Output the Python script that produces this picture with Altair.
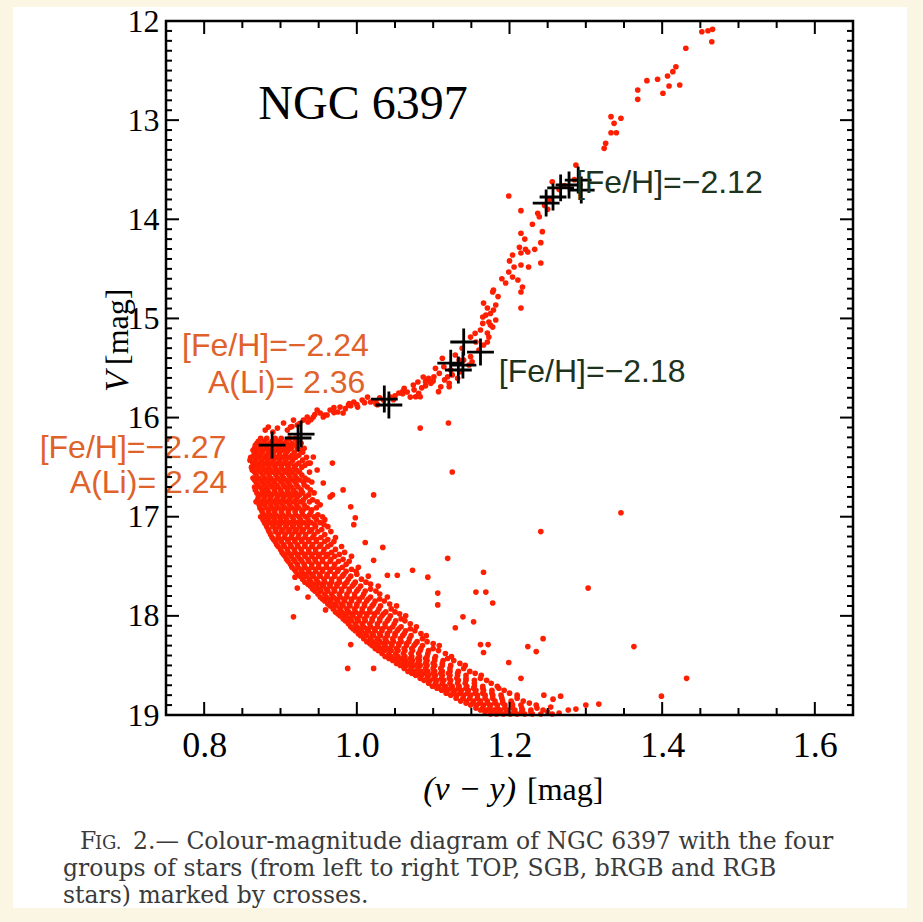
import altair as alt
import pandas as pd

# ---------------- data ----------------
# Sub-giant branch and red-giant branch stars: (v-y) colour and V magnitude
rgb_c = [1.452, 1.460, 1.466, 1.465, 1.431, 1.418, 1.414, 1.407, 1.423, 1.409, 1.401, 1.394,
         1.380, 1.368, 1.368, 1.333, 1.346, 1.337, 1.333, 1.340, 1.326, 1.324, 1.287, 1.256,
         1.199, 1.215, 1.237, 1.239, 1.215, 1.243, 1.213, 1.221, 1.233, 1.241, 1.204, 1.215,
         1.224, 1.241, 1.225, 1.215, 1.206, 1.199, 1.204, 1.211, 1.217, 1.215, 1.195, 1.179,
         1.178, 1.215, 1.166, 1.171, 1.182, 1.179, 1.169, 1.182, 1.173, 1.178, 1.173, 1.171,
         1.165, 1.175, 1.162, 1.171, 1.149, 1.156, 1.166, 1.160, 1.140, 1.147, 1.138, 1.129,
         1.134, 1.149, 1.151, 1.112, 1.114, 1.123, 1.136, 1.103, 1.108, 1.101, 1.119, 1.121,
         1.132, 1.094, 1.090, 1.097, 1.110, 1.121, 1.081, 1.077, 1.062, 1.060, 1.083, 1.107,
         1.087, 1.093, 1.080, 1.074, 1.066, 1.055, 1.070, 1.044, 1.035, 1.014, 1.007, 1.018,
         0.996, 1.001, 0.989, 0.978, 0.975, 0.982, 0.965, 0.961, 0.948, 0.952, 0.943, 0.956,
         0.935, 0.930, 0.936, 0.917, 0.922, 0.913, 0.904, 0.909, 0.896, 0.890, 0.884, 0.880,
         1.265, 1.252, 1.272, 1.285, 1.246, 1.027, 1.048, 0.970, 0.992, 1.025,
         0.940, 0.958, 0.970, 0.985, 1.000, 1.010, 1.025, 1.050, 1.060, 1.075, 1.090, 1.100,
         1.115, 1.125, 0.925, 0.915, 0.945, 0.990, 1.030, 1.085,
         1.190, 1.185, 1.200, 1.220, 1.230, 1.250, 1.175, 1.165, 1.155]
rgb_v = [12.108, 12.098, 12.084, 12.209, 12.275, 12.461, 12.511, 12.555, 12.646, 12.656, 12.729, 12.588,
         12.602, 12.696, 12.790, 12.965, 12.981, 13.032, 13.127, 13.127, 13.234, 13.284, 13.453, 13.621,
         13.765, 13.913, 13.940, 13.974, 14.141, 14.125, 14.283, 14.303, 14.303, 14.236, 14.360, 14.340,
         14.330, 14.441, 14.481, 14.461, 14.481, 14.532, 14.582, 14.612, 14.683, 14.733, 14.643, 14.713,
         14.733, 14.895, 14.845, 14.895, 14.865, 14.915, 14.966, 15.016, 15.036, 15.087, 15.188, 15.238,
         14.986, 15.067, 15.117, 15.147, 15.188, 15.238, 15.268, 15.319, 15.420, 15.470, 15.302, 15.369,
         15.420, 15.386, 15.437, 15.402, 15.487, 15.520, 15.537, 15.503, 15.554, 15.588, 15.588, 15.655,
         15.604, 15.604, 15.638, 15.655, 15.689, 15.689, 15.755, 15.790, 15.705, 15.739, 15.790, 15.739,
         15.591, 15.621, 15.641, 15.672, 15.742, 15.752, 15.793, 15.793, 15.823, 15.793, 15.823, 15.843,
         15.843, 15.894, 15.874, 15.894, 15.944, 15.954, 15.924, 15.974, 15.924, 15.954, 15.994, 15.994,
         15.994, 16.025, 16.045, 16.025, 16.075, 16.096, 16.055, 16.126, 16.106, 16.146, 16.096, 16.126,
         13.700, 13.800, 13.660, 13.600, 13.860, 15.870, 15.820, 15.900, 15.880, 15.860,
         16.020, 15.975, 15.950, 15.910, 15.870, 15.850, 15.830, 15.780, 15.760, 15.720, 15.680, 15.630,
         15.620, 15.570, 16.060, 16.090, 15.970, 15.860, 15.800, 15.700,
         14.600, 14.780, 14.420, 14.200, 14.050, 13.900, 14.950, 15.050, 15.150]

# Dense turn-off / main-sequence cloud, read row by row: (V, [colours along that row])
ms_rows = [
    (16.21, [0.874, 0.882, 0.893, 0.901, 0.912, 0.919]),
    (16.24, [0.871, 0.879, 0.889, 0.898, 0.908, 0.922]),
    (16.26, [0.869, 0.878, 0.886, 0.895, 0.904, 0.915, 0.927]),
    (16.28, [0.867, 0.875, 0.883, 0.891, 0.900, 0.910, 0.920]),
    (16.31, [0.866, 0.873, 0.881, 0.889, 0.897, 0.906, 0.914, 0.922, 0.931]),
    (16.33, [0.864, 0.870, 0.877, 0.885, 0.893, 0.902, 0.910, 0.926]),
    (16.35, [0.868, 0.876, 0.884, 0.891, 0.899, 0.908, 0.918, 0.929]),
    (16.38, [0.865, 0.873, 0.882, 0.890, 0.898, 0.906, 0.915, 0.924]),
    (16.40, [0.861, 0.870, 0.879, 0.887, 0.894, 0.902, 0.911, 0.920, 0.934]),
    (16.43, [0.860, 0.867, 0.875, 0.883, 0.891, 0.899, 0.907, 0.916, 0.929]),
    (16.46, [0.864, 0.872, 0.880, 0.888, 0.897, 0.905, 0.913, 0.924, 0.936]),
    (16.48, [0.866, 0.874, 0.884, 0.892, 0.901, 0.909, 0.920, 0.932]),
    (16.50, [0.862, 0.869, 0.877, 0.885, 0.893, 0.901, 0.910, 0.918, 0.928]),
    (16.53, [0.863, 0.871, 0.880, 0.887, 0.895, 0.904, 0.912, 0.921]),
    (16.55, [0.866, 0.874, 0.882, 0.890, 0.898, 0.907, 0.915, 0.925, 0.938]),
    (16.58, [0.868, 0.877, 0.885, 0.894, 0.902, 0.911, 0.919, 0.928]),
    (16.61, [0.864, 0.871, 0.879, 0.887, 0.896, 0.904, 0.913, 0.921, 0.932]),
    (16.63, [0.866, 0.874, 0.882, 0.890, 0.899, 0.907, 0.916, 0.925, 0.936]),
    (16.65, [0.868, 0.876, 0.884, 0.892, 0.901, 0.910, 0.919, 0.930, 0.941]),
    (16.68, [0.870, 0.879, 0.887, 0.895, 0.904, 0.912, 0.921, 0.931]),
    (16.70, [0.866, 0.873, 0.881, 0.889, 0.897, 0.906, 0.914, 0.923, 0.935]),
    (16.73, [0.867, 0.876, 0.883, 0.892, 0.900, 0.909, 0.917, 0.927, 0.939]),
    (16.76, [0.869, 0.877, 0.885, 0.893, 0.902, 0.911, 0.920, 0.929, 0.944]),
    (16.78, [0.873, 0.881, 0.889, 0.898, 0.907, 0.916, 0.925, 0.937]),
    (16.80, [0.871, 0.879, 0.887, 0.896, 0.904, 0.913, 0.922, 0.933]),
    (16.83, [0.870, 0.878, 0.886, 0.894, 0.903, 0.911, 0.920, 0.930, 0.942]),
    (16.85, [0.868, 0.875, 0.883, 0.891, 0.899, 0.908, 0.917, 0.926, 0.938, 0.948]),
    (16.88, [0.872, 0.879, 0.887, 0.895, 0.903, 0.912, 0.921, 0.931, 0.952]),
    (16.91, [0.873, 0.881, 0.889, 0.897, 0.906, 0.915, 0.924, 0.935, 0.947]),
    (16.93, [0.875, 0.885, 0.893, 0.902, 0.911, 0.920, 0.930, 0.941]),
    (16.95, [0.876, 0.884, 0.892, 0.901, 0.910, 0.919, 0.928, 0.940]),
    (16.98, [0.878, 0.886, 0.894, 0.903, 0.911, 0.920, 0.929, 0.938, 0.949]),
    (17.00, [0.874, 0.882, 0.890, 0.898, 0.906, 0.915, 0.924, 0.933, 0.944, 0.955]),
    (17.03, [0.877, 0.884, 0.892, 0.900, 0.908, 0.917, 0.926, 0.936, 0.947, 0.958]),
    (17.06, [0.879, 0.887, 0.895, 0.903, 0.912, 0.921, 0.930, 0.940, 0.952]),
    (17.08, [0.881, 0.891, 0.899, 0.908, 0.917, 0.926, 0.935, 0.945, 0.957]),
    (17.10, [0.882, 0.890, 0.898, 0.907, 0.916, 0.925, 0.935, 0.946, 0.962]),
    (17.13, [0.884, 0.894, 0.903, 0.912, 0.921, 0.930, 0.941, 0.954]),
    (17.15, [0.885, 0.893, 0.901, 0.910, 0.919, 0.928, 0.938, 0.949, 0.966]),
    (17.18, [0.887, 0.897, 0.906, 0.915, 0.924, 0.933, 0.944, 0.958]),
    (17.21, [0.889, 0.897, 0.905, 0.914, 0.923, 0.932, 0.942, 0.953, 0.972]),
    (17.23, [0.891, 0.900, 0.909, 0.918, 0.927, 0.937, 0.947, 0.962]),
    (17.25, [0.893, 0.901, 0.910, 0.919, 0.928, 0.937, 0.947, 0.958, 0.970]),
    (17.28, [0.895, 0.904, 0.913, 0.922, 0.932, 0.942, 0.953, 0.966]),
    (17.30, [0.897, 0.905, 0.914, 0.923, 0.932, 0.941, 0.951, 0.962, 0.980]),
    (17.33, [0.900, 0.909, 0.918, 0.927, 0.937, 0.946, 0.957, 0.972]),
    (17.36, [0.902, 0.910, 0.919, 0.928, 0.937, 0.946, 0.956, 0.967, 0.984]),
    (17.38, [0.904, 0.913, 0.922, 0.932, 0.941, 0.951, 0.962, 0.977]),
    (17.40, [0.906, 0.914, 0.923, 0.932, 0.941, 0.950, 0.960, 0.971, 0.993]),
    (17.43, [0.908, 0.917, 0.926, 0.936, 0.945, 0.955, 0.966, 0.982]),
    (17.45, [0.910, 0.919, 0.928, 0.937, 0.946, 0.955, 0.965, 0.976, 0.990]),
    (17.48, [0.913, 0.922, 0.931, 0.941, 0.950, 0.960, 0.971, 0.986]),
    (17.51, [0.915, 0.923, 0.932, 0.941, 0.950, 0.960, 0.970, 0.981, 1.002]),
    (17.53, [0.918, 0.927, 0.936, 0.946, 0.955, 0.965, 0.976, 0.993]),
    (17.55, [0.920, 0.928, 0.937, 0.946, 0.955, 0.965, 0.975, 0.986, 0.999]),
    (17.58, [0.923, 0.932, 0.941, 0.951, 0.961, 0.971, 0.983, 1.000]),
    (17.60, [0.926, 0.934, 0.943, 0.952, 0.961, 0.971, 0.981, 0.992, 1.015]),
    (17.63, [0.929, 0.938, 0.947, 0.957, 0.967, 0.977, 0.989, 1.006]),
    (17.66, [0.932, 0.940, 0.949, 0.958, 0.967, 0.977, 0.987, 0.998, 1.012]),
    (17.68, [0.936, 0.945, 0.954, 0.964, 0.974, 0.984, 0.996, 1.018]),
    (17.70, [0.939, 0.947, 0.956, 0.965, 0.974, 0.984, 0.994, 1.005, 1.028]),
    (17.73, [0.942, 0.951, 0.960, 0.970, 0.980, 0.990, 1.002, 1.018]),
    (17.75, [0.945, 0.953, 0.962, 0.971, 0.980, 0.990, 1.000, 1.011, 1.025]),
    (17.78, [0.949, 0.958, 0.967, 0.977, 0.987, 0.997, 1.009, 1.030]),
    (17.81, [0.952, 0.960, 0.969, 0.978, 0.987, 0.997, 1.007, 1.018, 1.040]),
    (17.83, [0.955, 0.964, 0.973, 0.983, 0.993, 1.003, 1.015, 1.030]),
    (17.85, [0.958, 0.966, 0.975, 0.984, 0.993, 1.003, 1.013, 1.024, 1.036]),
    (17.88, [0.962, 0.971, 0.980, 0.990, 1.000, 1.010, 1.022, 1.043]),
    (17.90, [0.965, 0.973, 0.982, 0.991, 1.000, 1.010, 1.020, 1.031, 1.052]),
    (17.93, [0.969, 0.978, 0.987, 0.997, 1.007, 1.017, 1.029, 1.045]),
    (17.96, [0.972, 0.980, 0.989, 0.998, 1.007, 1.017, 1.027, 1.038, 1.050]),
    (17.98, [0.975, 0.984, 0.993, 1.003, 1.013, 1.023, 1.035, 1.056]),
    (18.00, [0.978, 0.986, 0.995, 1.004, 1.013, 1.023, 1.033, 1.044, 1.064]),
    (18.03, [0.982, 0.991, 1.000, 1.010, 1.020, 1.030, 1.042, 1.058]),
    (18.05, [0.985, 0.993, 1.002, 1.011, 1.020, 1.030, 1.040, 1.051, 1.063]),
    (18.08, [0.989, 0.998, 1.007, 1.017, 1.027, 1.037, 1.049, 1.070]),
    (18.11, [0.992, 1.000, 1.009, 1.018, 1.027, 1.037, 1.047, 1.058, 1.078]),
    (18.13, [0.995, 1.004, 1.013, 1.023, 1.033, 1.043, 1.055, 1.070]),
    (18.15, [0.998, 1.006, 1.015, 1.024, 1.033, 1.043, 1.053, 1.064, 1.076]),
    (18.18, [1.002, 1.011, 1.020, 1.030, 1.040, 1.050, 1.062, 1.084]),
    (18.20, [1.005, 1.013, 1.022, 1.031, 1.040, 1.050, 1.060, 1.071, 1.091]),
    (18.23, [1.009, 1.018, 1.027, 1.037, 1.047, 1.057, 1.069, 1.086]),
    (18.26, [1.013, 1.021, 1.030, 1.039, 1.048, 1.058, 1.068, 1.079, 1.092]),
    (18.28, [1.017, 1.026, 1.035, 1.045, 1.055, 1.065, 1.077, 1.100]),
    (18.30, [1.020, 1.028, 1.037, 1.046, 1.055, 1.065, 1.075, 1.086, 1.108]),
    (18.33, [1.024, 1.033, 1.042, 1.052, 1.062, 1.072, 1.084, 1.100]),
    (18.35, [1.028, 1.036, 1.045, 1.054, 1.063, 1.073, 1.083, 1.094, 1.107]),
    (18.38, [1.033, 1.042, 1.051, 1.061, 1.071, 1.081, 1.093, 1.116]),
    (18.41, [1.037, 1.045, 1.054, 1.063, 1.072, 1.082, 1.092, 1.103, 1.124]),
    (18.43, [1.042, 1.051, 1.060, 1.070, 1.080, 1.090, 1.102, 1.119]),
    (18.45, [1.047, 1.055, 1.064, 1.073, 1.082, 1.092, 1.102, 1.113, 1.127]),
    (18.48, [1.052, 1.061, 1.070, 1.080, 1.090, 1.100, 1.112, 1.135]),
    (18.50, [1.057, 1.065, 1.074, 1.083, 1.092, 1.102, 1.112, 1.123, 1.142]),
    (18.53, [1.062, 1.071, 1.080, 1.090, 1.100, 1.110, 1.122, 1.140]),
    (18.56, [1.067, 1.075, 1.084, 1.093, 1.102, 1.112, 1.122, 1.133, 1.148]),
    (18.58, [1.072, 1.081, 1.090, 1.100, 1.110, 1.120, 1.132, 1.155]),
    (18.60, [1.077, 1.085, 1.094, 1.103, 1.112, 1.122, 1.132, 1.143, 1.163]),
    (18.63, [1.083, 1.092, 1.101, 1.111, 1.121, 1.131, 1.143, 1.162]),
    (18.65, [1.088, 1.096, 1.105, 1.114, 1.123, 1.133, 1.143, 1.154, 1.170]),
    (18.68, [1.094, 1.103, 1.112, 1.122, 1.132, 1.142, 1.154, 1.176]),
    (18.71, [1.099, 1.107, 1.116, 1.125, 1.134, 1.144, 1.154, 1.165, 1.184]),
    (18.73, [1.105, 1.114, 1.123, 1.133, 1.143, 1.153, 1.165, 1.186]),
    (18.75, [1.111, 1.119, 1.128, 1.137, 1.146, 1.156, 1.166, 1.177, 1.193]),
    (18.78, [1.117, 1.126, 1.135, 1.145, 1.155, 1.165, 1.177, 1.200]),
    (18.80, [1.123, 1.131, 1.140, 1.149, 1.158, 1.168, 1.178, 1.189, 1.210]),
    (18.83, [1.130, 1.139, 1.148, 1.158, 1.168, 1.178, 1.190, 1.210]),
    (18.86, [1.136, 1.144, 1.153, 1.162, 1.171, 1.181, 1.191, 1.202, 1.218]),
    (18.88, [1.143, 1.152, 1.161, 1.171, 1.181, 1.191, 1.203, 1.226]),
    (18.90, [1.149, 1.157, 1.166, 1.175, 1.184, 1.194, 1.204, 1.215, 1.235]),
    (18.93, [1.156, 1.165, 1.174, 1.184, 1.194, 1.204, 1.216, 1.236]),
    (18.95, [1.162, 1.170, 1.179, 1.188, 1.197, 1.207, 1.217, 1.228, 1.244]),
    (18.97, [1.168, 1.177, 1.186, 1.196, 1.206, 1.216, 1.228, 1.250]),
    (18.99, [1.175, 1.183, 1.192, 1.201, 1.210, 1.220, 1.230, 1.241, 1.256]),
]

# Scattered field stars around the sequence
out_c = [1.083, 1.120, 0.968, 1.125, 0.943, 0.939, 0.948, 0.956, 0.965, 0.982, 0.992, 1.022,
         0.998, 1.011, 1.034, 1.022, 1.040, 1.053, 1.073, 1.093, 0.919, 0.922, 0.936, 0.917,
         0.959, 0.992, 0.988, 1.022, 0.968, 0.996, 1.119, 1.166, 1.156, 1.169, 1.178, 1.106,
         1.106, 1.139, 1.153, 1.162, 1.166, 1.346, 1.241, 1.303, 1.363, 1.244, 1.224, 1.235,
         1.199, 1.215, 1.432, 1.399, 1.317, 1.300, 1.287, 1.267, 1.257, 1.245, 1.277, 1.265,
         1.254, 1.129, 1.172]
out_v = [16.106, 16.055, 16.459, 16.549, 16.398, 16.459, 16.529, 16.66, 16.80, 16.73, 16.90, 16.78,
         17.01, 17.26, 17.31, 17.44, 17.59, 17.59, 17.54, 17.61, 17.61, 17.72, 17.81, 18.01,
         17.94, 18.29, 18.53, 18.53, 16.78, 17.08, 17.42, 17.56, 17.76, 17.76, 17.87, 17.77,
         17.89, 18.01, 18.06, 18.29, 18.37, 16.96, 17.15, 17.72, 18.31, 18.23, 18.31, 18.36,
         18.47, 18.63, 18.63, 18.81, 18.89, 18.90, 18.94, 18.81, 18.84, 18.80, 18.95, 18.98,
         18.92, 18.12, 18.29]

# Stars marked by crosses (TOP, SGB, bRGB, RGB groups)
cross_c = [0.889, 0.923, 0.927, 1.036, 1.042, 1.140, 1.162, 1.123, 1.133, 1.139,
           1.248, 1.257, 1.267, 1.278, 1.290, 1.294]
cross_v = [16.277, 16.206, 16.166, 15.813, 15.873, 15.238, 15.339, 15.450, 15.520, 15.470,
           13.836, 13.775, 13.684, 13.654, 13.604, 13.705]

# Annotations
ann_text = ["[Fe/H]=\u22122.12", "[Fe/H]=\u22122.18", "[Fe/H]=\u22122.24", "A(Li)= 2.36",
            "[Fe/H]=\u22122.27", "A(Li)= 2.24"]
ann_x = [1.287, 1.186, 0.771, 0.805, 0.5845, 0.624]
ann_v = [13.735, 15.641, 15.379, 15.752, 16.405, 16.760]
ann_col = ["#1d331d", "#1d331d", "#e0622b", "#e0622b", "#e0622b", "#e0622b"]

# Axis ticks
x_major = [0.8, 1.0, 1.2, 1.4, 1.6]
x_minor = [0.85, 0.9, 0.95, 1.05, 1.1, 1.15, 1.25, 1.3, 1.35, 1.45, 1.5, 1.55]
y_major = [12, 13, 14, 15, 16, 17, 18, 19]
y_minor = [round(m + k / 10, 1) for m in range(12, 19) for k in range(1, 10)]

caption_1a = "F"
caption_1b = "IG."
caption_1c = "2.\u2014 Colour-magnitude diagram of NGC 6397 with the four"
caption_2 = "groups of stars (from left to right TOP, SGB, bRGB and RGB"
caption_3 = "stars) marked by crosses."

# ---------------- build tables ----------------
ms_c, ms_v = [], []
for v, cols in ms_rows:
    for c in cols:
        ms_c.append(c)
        ms_v.append(v)

stars = pd.DataFrame({"c": rgb_c + ms_c + out_c, "v": rgb_v + ms_v + out_v})
crosses = pd.DataFrame({"c": cross_c, "v": cross_v})
ann = pd.DataFrame({"c": ann_x, "v": ann_v, "t": ann_text, "col": ann_col})

W, H = 687, 694
SERIF = "Liberation Serif"
SANS = "Liberation Sans"
CAPF = "DejaVu Serif"

sx = alt.Scale(domain=[0.75, 1.65], zero=False, nice=False)
sy = alt.Scale(domain=[12, 19], reverse=True, zero=False, nice=False)
ax_x = alt.Axis(values=x_major, format=".1f", labelFont=SERIF, labelFontSize=36,
                labelColor="black", ticks=False, domain=False, grid=False,
                labelPadding=13, title=None, zindex=2)
ax_y = alt.Axis(values=y_major, format="d", labelFont=SERIF, labelFontSize=32,
                labelColor="black", ticks=False, domain=False, grid=False,
                labelPadding=7, title=None, zindex=2)

X = alt.X("c:Q", scale=sx, axis=ax_x)
Y = alt.Y("v:Q", scale=sy, axis=ax_y)

one = pd.DataFrame({"a": [0]})

panel = alt.Chart(one).mark_rect(color="white").encode(
    x=alt.value(-153), x2=alt.value(741), y=alt.value(-14), y2=alt.value(887))

pts = alt.Chart(stars).mark_circle(size=32, color="#ff1e00", opacity=1).encode(x=X, y=Y)

crs = alt.Chart(crosses).mark_point(
    shape="M-1,0H1M0,-1V1", size=720, filled=False, color="black",
    strokeWidth=2.8, opacity=1).encode(x=X, y=Y)

ann_layer = alt.Chart(ann).mark_text(
    align="left", baseline="alphabetic", font=SANS, fontSize=32).encode(
    x=X, y=Y, text="t:N", color=alt.Color("col:N", scale=None))

title_layer = alt.Chart(pd.DataFrame({"c": [0.871], "v": [12.988], "t": ["NGC 6397"]})).mark_text(
    align="left", baseline="alphabetic", font=SERIF, fontSize=48, color="black").encode(
    x=X, y=Y, text="t:N")


def xticks(vals, ln):
    d = pd.DataFrame({"c": vals})
    b = alt.Chart(d).mark_rule(color="black", strokeWidth=2).encode(
        x=X, y=alt.value(H), y2=alt.value(H - ln))
    t = alt.Chart(d).mark_rule(color="black", strokeWidth=2).encode(
        x=X, y=alt.value(0), y2=alt.value(ln))
    return [b, t]


def yticks(vals, ln):
    d = pd.DataFrame({"v": vals})
    l = alt.Chart(d).mark_rule(color="black", strokeWidth=2).encode(
        y=Y, x=alt.value(0), x2=alt.value(ln))
    r = alt.Chart(d).mark_rule(color="black", strokeWidth=2).encode(
        y=Y, x=alt.value(W), x2=alt.value(W - ln))
    return [l, r]


ticks = xticks(x_major, 13) + xticks(x_minor, 7) + yticks(y_major, 13) + yticks(y_minor, 6)

frame = alt.Chart(one).mark_rect(fillOpacity=0, stroke="black", strokeWidth=2.5).encode(
    x=alt.value(0), x2=alt.value(W), y=alt.value(0), y2=alt.value(H))

# axis titles (with italic variables)
xt1 = alt.Chart(one).mark_text(text="(v \u2212 y)", font=SERIF, fontSize=34, fontStyle="italic",
                               align="right", baseline="alphabetic").encode(
    x=alt.value(350), y=alt.value(779))
xt2 = alt.Chart(one).mark_text(text="[mag]", font=SERIF, fontSize=32,
                               align="left", baseline="alphabetic").encode(
    x=alt.value(361), y=alt.value(779))
yt1 = alt.Chart(one).mark_text(text="V", font=SERIF, fontSize=34, fontStyle="italic", angle=270,
                               align="left", baseline="alphabetic").encode(
    x=alt.value(-38), y=alt.value(371))
yt2 = alt.Chart(one).mark_text(text="[mag]", font=SERIF, fontSize=32, angle=270,
                               align="left", baseline="alphabetic").encode(
    x=alt.value(-38), y=alt.value(344))

CAPS, CAPC = 23.5, "#3a3a3a"
cap_a = alt.Chart(one).mark_text(text=caption_1a, font=CAPF, fontSize=CAPS, color=CAPC,
                                 align="left", baseline="alphabetic").encode(
    x=alt.value(-86), y=alt.value(828))
cap_b = alt.Chart(one).mark_text(text=caption_1b, font=CAPF, fontSize=18, color=CAPC,
                                 align="left", baseline="alphabetic").encode(
    x=alt.value(-71), y=alt.value(828))
cap_c = alt.Chart(one).mark_text(text=caption_1c, font=CAPF, fontSize=CAPS, color=CAPC,
                                 align="left", baseline="alphabetic").encode(
    x=alt.value(-33), y=alt.value(828))
cap_2 = alt.Chart(one).mark_text(text=caption_2, font=CAPF, fontSize=CAPS, color=CAPC,
                                 align="left", baseline="alphabetic").encode(
    x=alt.value(-103), y=alt.value(855))
cap_3 = alt.Chart(one).mark_text(text=caption_3, font=CAPF, fontSize=CAPS, color=CAPC,
                                 align="left", baseline="alphabetic").encode(
    x=alt.value(-103), y=alt.value(882))

chart = alt.layer(panel, pts, crs, ann_layer, title_layer, *ticks, frame, xt1, xt2, yt1, yt2,
                  cap_a, cap_b, cap_c, cap_2, cap_3).properties(
    width=W, height=H,
    padding={"left": 166, "top": 21, "right": 70, "bottom": 207},
    autosize=alt.AutoSizeParams(type="none"),
    background="#fbf5e4",
).configure_view(stroke=None)

chart.save("out.html", embed_options={"renderer": "svg", "actions": False})
